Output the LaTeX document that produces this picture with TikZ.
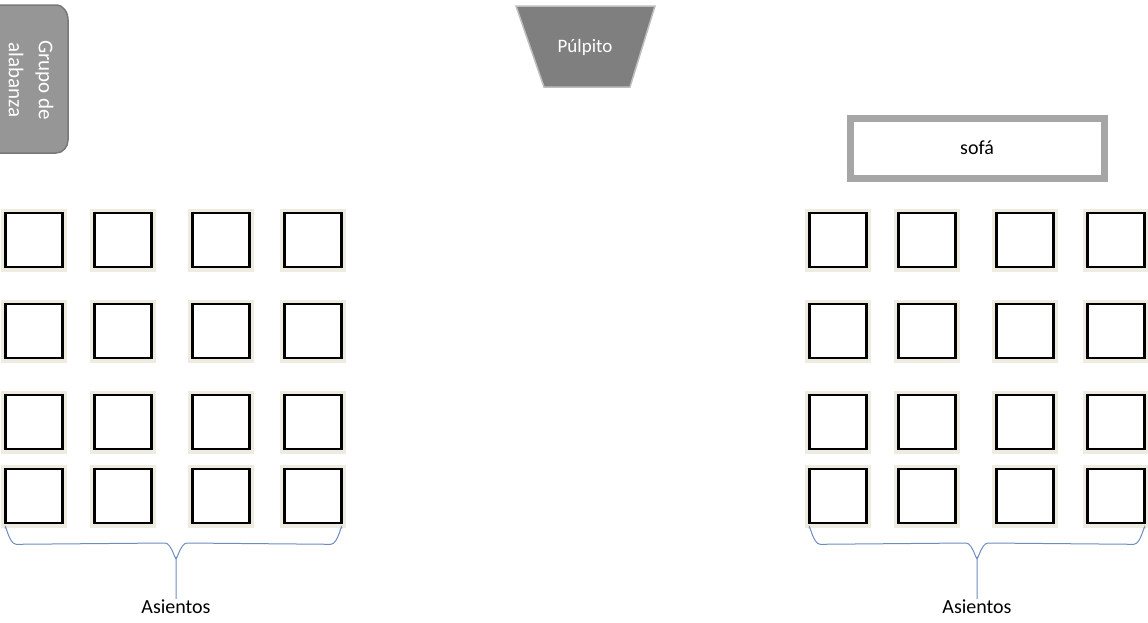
\documentclass[tikz,border=0pt]{standalone}
\usepackage{fontspec}
\setmainfont{Carlito}
\usetikzlibrary{shapes.geometric,calc}
\definecolor{halo}{RGB}{238,236,224}
\definecolor{bracec}{RGB}{110,140,190}
\definecolor{grupofill}{RGB}{150,150,150}
\definecolor{grupoedge}{RGB}{120,120,120}
\definecolor{pulpfill}{RGB}{127,127,127}
\definecolor{pulpedge}{RGB}{190,190,190}
\definecolor{sofaedge}{RGB}{166,166,166}
\tikzset{
  seat/.style={draw=black, line width=2.6pt, fill=white, minimum width=57pt, minimum height=54pt, inner sep=0pt,
     preaction={draw=halo, line width=9pt}},
  bracestyle/.style={draw=bracec, line width=1pt},
  lbl/.style={font=\fontsize{20}{24}\selectfont, inner sep=1pt}
}
\begin{document}
\begin{tikzpicture}[x=1pt,y=-1pt]
\useasboundingbox (0,0) rectangle (1148,622);
% Grupo de alabanza
\path[fill=grupofill, draw=grupoedge, line width=1.5pt]
  (-3,5) -- (56,5) to[out=0,in=90] (68,20) -- (68,140) to[out=-90,in=0] (56,153) -- (-3,153) -- cycle;
\node[text=white, rotate=-90, align=center, font=\fontsize{21}{30}\selectfont] (grupo) at (31,80) {Grupo de\\alabanza};
% Pulpito
\path[fill=pulpfill, draw=pulpedge, line width=1.5pt] (516,6) -- (655,6) -- (630,87) -- (544,87) -- cycle;
\node[text=white, font=\fontsize{19}{22}\selectfont] (pulpito) at (585,47) {Púlpito};
% sofa
\node[draw=sofaedge, line width=7pt, fill=white, minimum width=254pt, minimum height=60pt, font=\fontsize{20}{24}\selectfont] (sofa) at (977,148) {sofá};
% seats
\foreach \r/\y in {1/240,2/331,3/422,4/496}{
  \foreach \c/\x in {1/34,2/123,3/221,4/313}{
    \node[seat] (l\r\c) at (\x,\y) {};
  }
  \foreach \c/\x in {1/838,2/927,3/1025,4/1116}{
    \node[seat] (r\r\c) at (\x,\y) {};
  }
}
% labels
\node[lbl] (asl) at (176,607) {Asientos};
\node[lbl] (asr) at (977,607) {Asientos};
% braces
\draw[bracestyle] ($(l41.south west)+(1,4)$) to[out=90,in=180] ($(l41.south west)+(12,20)$)
  -- (165,543) to[out=0,in=-90] (176,557) -- (asl.north);
\draw[bracestyle] (176,557) to[out=-90,in=180] (187,543) -- ($(l44.south east)+(-12,20)$)
  to[out=0,in=90] ($(l44.south east)+(-1,4)$);
\draw[bracestyle] ($(r41.south west)+(1,4)$) to[out=90,in=180] ($(r41.south west)+(12,20)$)
  -- (966,543) to[out=0,in=-90] (977,557) -- (asr.north);
\draw[bracestyle] (977,557) to[out=-90,in=180] (988,543) -- ($(r44.south east)+(-12,20)$)
  to[out=0,in=90] ($(r44.south east)+(-1,4)$);
\end{tikzpicture}
\end{document}
